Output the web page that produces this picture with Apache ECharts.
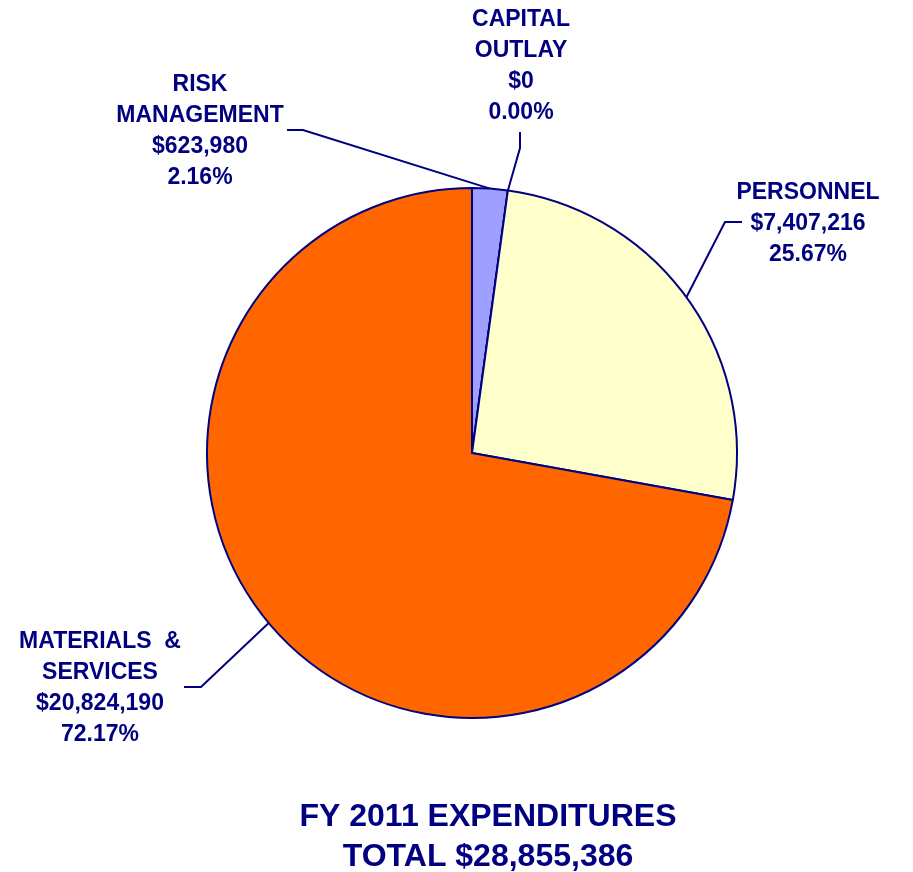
<!DOCTYPE html>
<html>
<head>
<meta charset="utf-8">
<script src="https://cdn.jsdelivr.net/npm/echarts@6/dist/echarts.min.js"></script>
<style>html,body{margin:0;padding:0;background:#fff}#c{width:913px;height:872px}</style>
</head>
<body>
<div id="c"></div>
<script>
var categories = ['RISK\nMANAGEMENT', 'CAPITAL\nOUTLAY', 'PERSONNEL', 'MATERIALS  &\nSERVICES'];
var values = [623980, 0, 7407216, 20824190];
var colors = ['#9F9FFF', '#FFFFCC', '#FFFFCC', '#FF6600'];
var titleLines = ['FY 2011 EXPENDITURES', 'TOTAL $28,855,386'];

var NAVY = '#000080';
var FONT = 'Liberation Sans, Arial, sans-serif';
var total = values.reduce(function (a, b) { return a + b; }, 0);

var labelPlace = [
  { x: 200, y: 131, va: 'middle', bend: [303, 130], end: [287, 130] },
  { x: 521, y: 128, va: 'bottom', bend: [520, 148], end: [520, 132] },
  { x: 808, y: 224, va: 'middle', bend: [725, 222], end: [742, 222] },
  { x: 100, y: 688, va: 'middle', bend: [201, 687], end: [184, 687] }
];

function fmtMoney(v) {
  return '$' + v.toString().replace(/\B(?=(\d{3})+(?!\d))/g, ',');
}

var chart = echarts.init(document.getElementById('c'));
chart.setOption({
  animation: false,
  backgroundColor: '#ffffff',
  graphic: [{
    type: 'text',
    x: 488,
    y: 837,
    style: {
      text: titleLines.join('\n'),
      font: 'bold 32px ' + FONT,
      fill: NAVY,
      align: 'center',
      verticalAlign: 'middle',
      lineHeight: 40
    }
  }],
  series: [{
    type: 'pie',
    center: [472, 453],
    radius: [0, 265],
    startAngle: 90,
    clockwise: true,
    avoidLabelOverlap: false,
    stillShowZeroSum: true,
    minShowLabelAngle: 0,
    data: categories.map(function (c, i) {
      return { name: c, value: values[i], itemStyle: { color: colors[i] } };
    }),
    itemStyle: { borderColor: NAVY, borderWidth: 2 },
    label: {
      show: true,
      position: 'outside',
      color: NAVY,
      fontFamily: FONT,
      fontWeight: 'bold',
      fontSize: 23,
      lineHeight: 31,
      align: 'center',
      formatter: function (p) {
        var lines = p.name.split('\n');
        var pct = (p.value / total * 100).toFixed(2) + '%';
        lines.push(fmtMoney(p.value));
        lines.push(pct);
        return lines.join('\n');
      }
    },
    labelLine: {
      show: true,
      length: 20,
      length2: 20,
      lineStyle: { color: NAVY, width: 2 }
    },
    labelLayout: function (params) {
      var lp = labelPlace[params.dataIndex];
      var start = params.labelLinePoints ? params.labelLinePoints[0] : null;
      var r = {
        x: lp.x,
        y: lp.y,
        align: 'center',
        verticalAlign: lp.va
      };
      if (start) {
        r.labelLinePoints = [start, lp.bend, lp.end];
      }
      return r;
    }
  }]
});
</script>
</body>
</html>
